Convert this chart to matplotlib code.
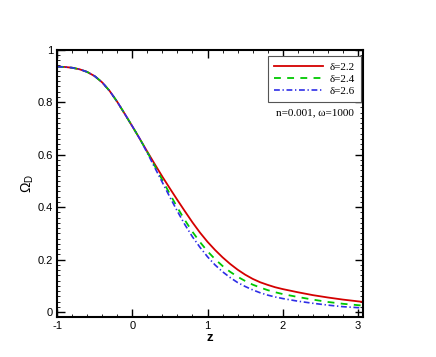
import numpy as np
import matplotlib
matplotlib.use("Agg")
import matplotlib.pyplot as plt
from matplotlib.ticker import MultipleLocator, FuncFormatter

# Data (curves coincide up to z ~ 0.1)
z_common = [-1.0, -0.9, -0.8, -0.7, -0.6, -0.5, -0.4, -0.3, -0.2, -0.1, 0.0, 0.1]
omega_common = [0.935, 0.934, 0.931, 0.925, 0.915, 0.899, 0.875, 0.842, 0.801, 0.755, 0.708, 0.660]

z_tail = [0.2, 0.3, 0.4, 0.5, 0.6, 0.7, 0.8, 0.9, 1.0, 1.1, 1.2, 1.3, 1.4, 1.5,
          1.6, 1.7, 1.8, 1.9, 2.0, 2.2, 2.4, 2.6, 2.8, 3.07]
omega_d22 = [0.611, 0.563, 0.516, 0.471, 0.427, 0.384, 0.342, 0.303, 0.268, 0.237, 0.209, 0.184,
             0.162, 0.143, 0.127, 0.114, 0.104, 0.095, 0.088, 0.076, 0.065, 0.056, 0.048, 0.039]
omega_d24 = [0.609, 0.556, 0.503, 0.450, 0.398, 0.350, 0.306, 0.267, 0.232, 0.202, 0.176, 0.154,
             0.135, 0.119, 0.105, 0.094, 0.084, 0.076, 0.069, 0.058, 0.048, 0.039, 0.032, 0.025]
omega_d26 = [0.606, 0.550, 0.494, 0.438, 0.384, 0.333, 0.287, 0.247, 0.211, 0.180, 0.154, 0.132,
             0.113, 0.098, 0.085, 0.074, 0.065, 0.058, 0.052, 0.042, 0.034, 0.027, 0.021, 0.016]

labels = ["\u03b4=2.2", "\u03b4=2.4", "\u03b4=2.6"]
note = "n=0.001, \u03c9=1000"

plt.rcParams['font.family'] = ['Liberation Sans', 'DejaVu Sans']
plt.rcParams['mathtext.fontset'] = 'custom'
plt.rcParams['mathtext.rm'] = 'Liberation Sans'
plt.rcParams['mathtext.it'] = 'Liberation Sans'

fig = plt.figure(figsize=(4.36, 3.57), dpi=100)
ax = fig.add_axes([0.131, 0.113, 0.702, 0.748])

z = np.array(z_common + z_tail)
ax.plot(z, omega_common + omega_d22, color='#d40000', lw=1.3, label=labels[0])
ax.plot(z, omega_common + omega_d24, color='#00c800', lw=1.3, ls=(0, (3.8, 3.5)), label=labels[1])
ax.plot(z, omega_common + omega_d26, color='#2e2ee6', lw=1.2, ls=(0, (3.5, 1.6, 0.8, 1.6)), label=labels[2])

ax.set_xlim(-1, 3.07)
ax.set_ylim(-0.017, 1)
ax.xaxis.set_major_locator(MultipleLocator(1))
ax.xaxis.set_minor_locator(MultipleLocator(0.2))
ax.yaxis.set_major_locator(MultipleLocator(0.2))
ax.yaxis.set_minor_locator(MultipleLocator(0.02))
ax.tick_params(which='both', direction='in', top=True, right=True, labelsize=8, width=1.0)
ax.tick_params(which='major', length=5.5, pad=3)
ax.tick_params(which='minor', length=2.5, width=0.6)
ax.xaxis.set_major_formatter(FuncFormatter(lambda v, p: f"{v:g}"))
ax.yaxis.set_major_formatter(FuncFormatter(lambda v, p: f"{v:g}"))
for s in ax.spines.values():
    s.set_linewidth(1.5)

ax.set_xlabel("z", fontsize=9.5, fontweight='bold', labelpad=1)
ax.set_ylabel("\u03a9$_\\mathrm{D}$", fontsize=10, labelpad=1)

leg = ax.legend(loc='upper right', bbox_to_anchor=(0.9935, 0.976), borderaxespad=0,
                fancybox=False, edgecolor='#555555', framealpha=1, handlelength=4.4,
                prop={'family': 'Liberation Serif', 'size': 8},
                borderpad=0.55, labelspacing=0.2, handletextpad=0.65)
leg.get_frame().set_linewidth(0.8)

ax.text(0.843, 0.762, note, transform=ax.transAxes,
        family='Liberation Serif', fontsize=8, ha='center', va='center')

fig.savefig("out.png", dpi=100)
